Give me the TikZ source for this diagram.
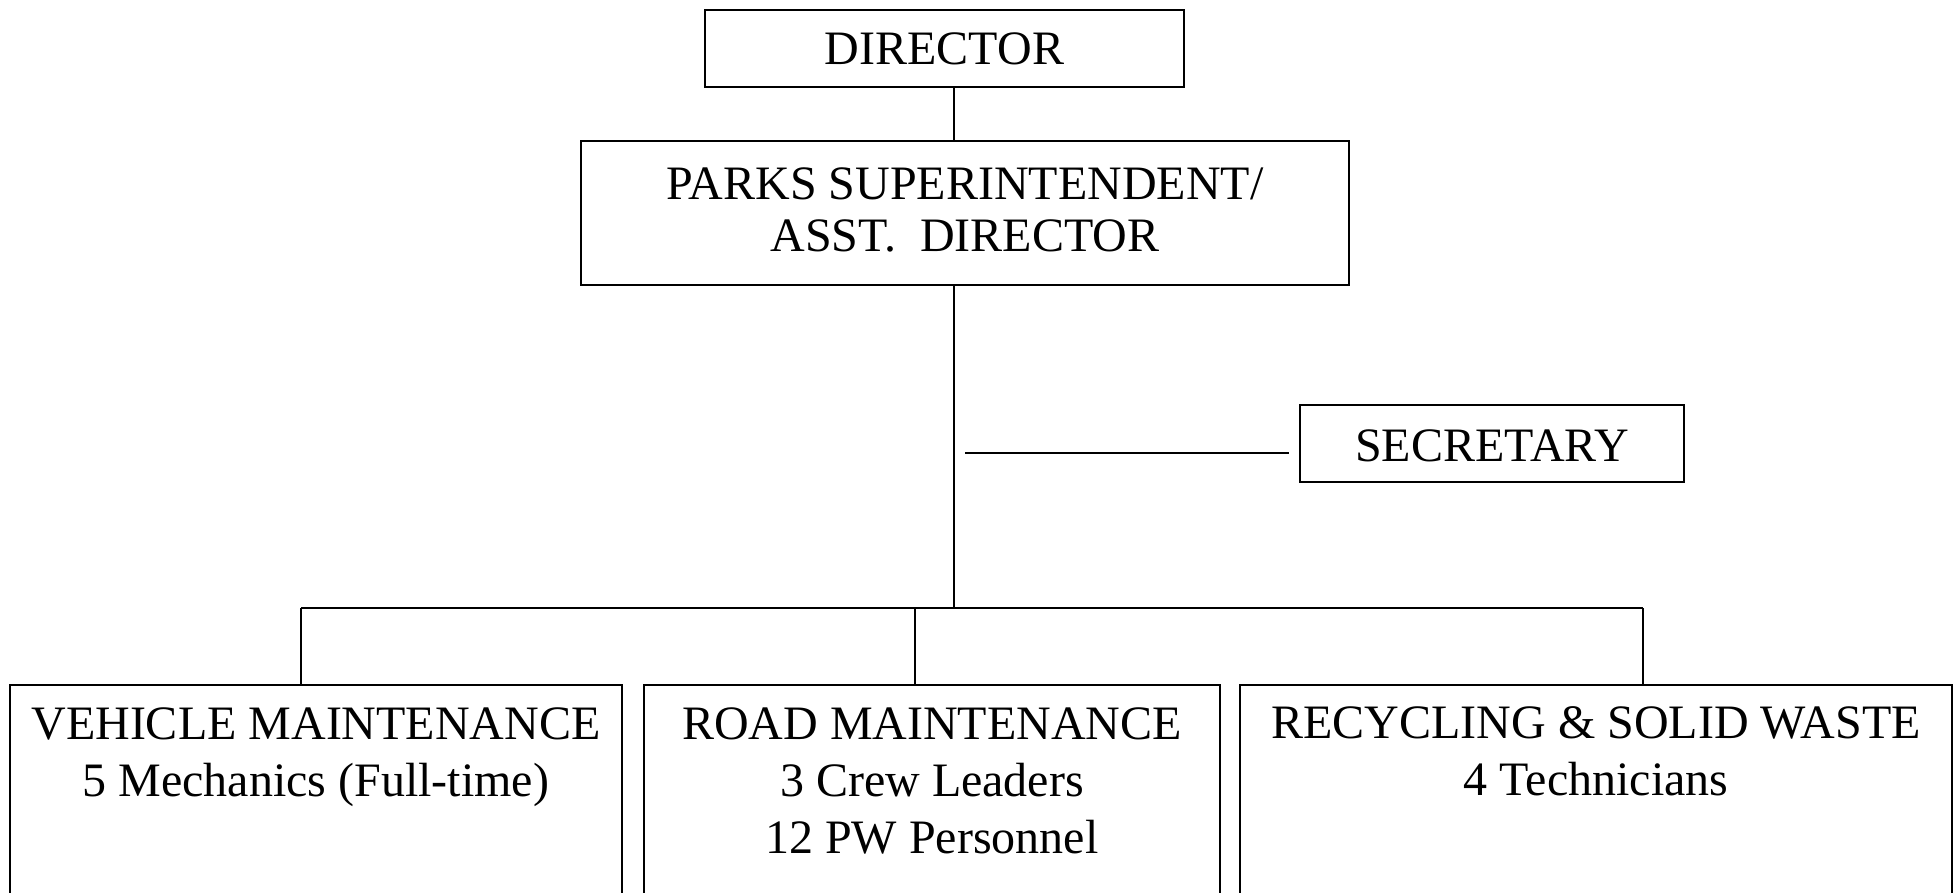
\documentclass[tikz,border=0pt]{standalone}
\usepackage{fontspec}
\setmainfont{Liberation Serif}
\begin{document}
\begin{tikzpicture}[x=1pt,y=-1pt,
  box/.style={draw, line width=2pt, inner sep=0pt, align=center,
    font=\fontsize{48}{52}\selectfont},
  unittext/.style={inner sep=0pt, align=center, anchor=north,
    font=\fontsize{48}{57}\selectfont},
  wire/.style={line width=2pt}]
\useasboundingbox (0,0) rectangle (1958,893);
\clip (0,0) rectangle (1958,893);

% upper chain of command
\node[box, minimum width=479pt, minimum height=77pt] (director) at (944.5,48.5) {DIRECTOR};
\node[box, minimum width=768pt, minimum height=144pt] (parks) at (965,213) {};
\node[inner sep=0pt, align=center, font=\fontsize{48}{52}\selectfont] (parkstext) at (965,210)
  {PARKS SUPERINTENDENT/\\ASST.\ \ DIRECTOR};
\node[box, minimum width=384pt, minimum height=77pt] (secretary) at (1492,443.5) {};
\node[inner sep=0pt, font=\fontsize{48}{52}\selectfont] (sectext) at (1492,446) {SECRETARY};

% divisions (boxes run off the bottom of the page)
\node[box, minimum width=612pt, minimum height=300pt, anchor=north] (vehicle) at (316,684) {};
\node[box, minimum width=576pt, minimum height=300pt, anchor=north] (road) at (932,684) {};
\node[box, minimum width=712pt, minimum height=300pt, anchor=north] (recycling) at (1596,684) {};

\node[unittext] (vehtext) at (316,708) {VEHICLE MAINTENANCE\\5 Mechanics (Full-time)};
\node[unittext] (roadtext) at (932,708) {ROAD MAINTENANCE\\3 Crew Leaders\\12 PW Personnel};
\node[unittext] (rectext) at (1596,706) {RECYCLING \& SOLID WASTE\\4 Technicians};

% connectors
\coordinate (trunk) at (954,608);
\coordinate (busL) at (301,608);
\coordinate (busM) at (915,608);
\coordinate (busR) at (1643,608);
\coordinate (secstart) at (965,453);

\draw[wire] (director.south -| trunk) -- (parks.north -| trunk);
\draw[wire] (parks.south -| trunk) -- (trunk);
\draw[wire] (busL) -- (busR);
\draw[wire] (busL) -- (vehicle.north -| busL);
\draw[wire] (busM) -- (road.north -| busM);
\draw[wire] (busR) -- (recycling.north -| busR);
\draw[wire] (secstart) -- ([xshift=-10pt]secretary.west |- secstart);
\end{tikzpicture}
\end{document}
